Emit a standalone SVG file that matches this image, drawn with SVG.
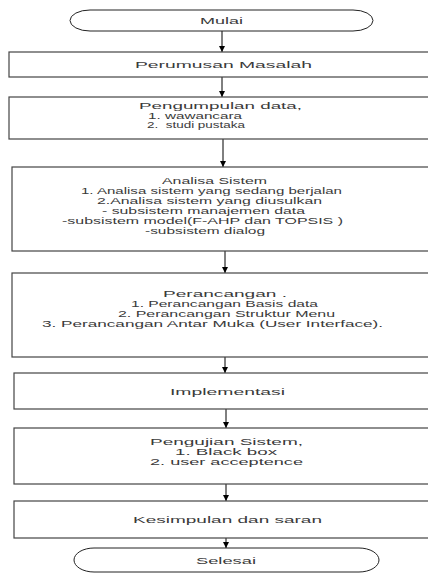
<svg xmlns="http://www.w3.org/2000/svg" width="428" height="573" viewBox="0 0 428 573">
  <defs>
    <marker id="arrow" viewBox="0 0 10 10" refX="10" refY="5" markerWidth="6" markerHeight="6" markerUnits="userSpaceOnUse" orient="auto">
      <path d="M0,0 L10,5 L0,10 Z" fill="#000"/>
    </marker>
    <style>
      .box { fill: #fff; stroke: #444; stroke-width: 1.2; }
      .term { fill: #fff; stroke: #222; stroke-width: 1; }
      .lbl { font-family: "Liberation Sans", Arial, sans-serif; font-size: 9px; fill: #3a3a3a; }
      .conn { stroke: #000; stroke-width: 1; fill: none; marker-end: url(#arrow); }
    </style>
  </defs>
  <rect width="428" height="573" fill="#fff"/>

  <!-- connectors -->
  <g id="connectors">
    <line class="conn" x1="222" y1="31" x2="222" y2="52"/>
    <line class="conn" x1="222" y1="77" x2="222" y2="97"/>
    <line class="conn" x1="223" y1="139" x2="223" y2="167"/>
    <line class="conn" x1="225" y1="251" x2="225" y2="273"/>
    <line class="conn" x1="225" y1="357" x2="225" y2="373"/>
    <line class="conn" x1="226" y1="409" x2="226" y2="428"/>
    <line class="conn" x1="226" y1="484" x2="226" y2="501"/>
    <line class="conn" x1="226" y1="538" x2="226" y2="548"/>
  </g>

  <g id="mulai">
    <path class="term" d="M90,10 H353 A20,10.5 0 0 1 353,31 H90 A20,10.5 0 0 1 90,10 Z"/>
    <text class="lbl" x="200" y="23.5" textLength="43" lengthAdjust="spacingAndGlyphs">Mulai</text>
  </g>

  <g id="perumusan">
    <rect class="box" x="9" y="52" width="425" height="25"/>
    <text class="lbl" x="135" y="67.5" textLength="177" lengthAdjust="spacingAndGlyphs">Perumusan Masalah</text>
  </g>

  <g id="pengumpulan">
    <rect class="box" x="9" y="97" width="425" height="42"/>
    <text class="lbl" x="139" y="109" textLength="163" lengthAdjust="spacingAndGlyphs">Pengumpulan data,</text>
    <text class="lbl" x="148" y="118.5" textLength="94" lengthAdjust="spacingAndGlyphs">1. wawancara</text>
    <text class="lbl" x="147" y="128" textLength="98" lengthAdjust="spacingAndGlyphs" xml:space="preserve">2.  studi pustaka</text>
  </g>

  <g id="analisa">
    <rect class="box" x="12" y="167" width="422" height="84"/>
    <text class="lbl" x="162" y="184" textLength="105" lengthAdjust="spacingAndGlyphs">Analisa Sistem</text>
    <text class="lbl" x="81" y="194" textLength="261" lengthAdjust="spacingAndGlyphs">1. Analisa sistem yang sedang berjalan</text>
    <text class="lbl" x="97" y="204" textLength="225" lengthAdjust="spacingAndGlyphs">2.Analisa sistem yang diusulkan</text>
    <text class="lbl" x="102" y="214" textLength="203" lengthAdjust="spacingAndGlyphs">- subsistem manajemen data</text>
    <text class="lbl" x="62" y="224" textLength="281" lengthAdjust="spacingAndGlyphs">-subsistem model(F-AHP dan TOPSIS )</text>
    <text class="lbl" x="145" y="233.5" textLength="120" lengthAdjust="spacingAndGlyphs">-subsistem dialog</text>
  </g>

  <g id="perancangan">
    <rect class="box" x="12" y="273" width="422" height="84"/>
    <text class="lbl" x="163" y="297" textLength="124" lengthAdjust="spacingAndGlyphs">Perancangan .</text>
    <text class="lbl" x="131" y="307" textLength="187" lengthAdjust="spacingAndGlyphs">1. Perancangan Basis data</text>
    <text class="lbl" x="118" y="317" textLength="217" lengthAdjust="spacingAndGlyphs">2. Perancangan Struktur Menu</text>
    <text class="lbl" x="42" y="326.5" textLength="341" lengthAdjust="spacingAndGlyphs">3. Perancangan Antar Muka (User Interface).</text>
  </g>

  <g id="implementasi">
    <rect class="box" x="14" y="373" width="420" height="36"/>
    <text class="lbl" x="170" y="394.5" textLength="115" lengthAdjust="spacingAndGlyphs">Implementasi</text>
  </g>

  <g id="pengujian">
    <rect class="box" x="14" y="428" width="420" height="56"/>
    <text class="lbl" x="150" y="445" textLength="153" lengthAdjust="spacingAndGlyphs">Pengujian Sistem,</text>
    <text class="lbl" x="175" y="455" textLength="102" lengthAdjust="spacingAndGlyphs">1. Black box</text>
    <text class="lbl" x="150" y="464.5" textLength="153" lengthAdjust="spacingAndGlyphs">2. user acceptence</text>
  </g>

  <g id="kesimpulan">
    <rect class="box" x="14" y="501" width="420" height="37"/>
    <text class="lbl" x="133" y="523" textLength="189" lengthAdjust="spacingAndGlyphs">Kesimpulan dan saran</text>
  </g>

  <g id="selesai">
    <path class="term" d="M94,548 H359 A20,12 0 0 1 359,572 H94 A20,12 0 0 1 94,548 Z"/>
    <text class="lbl" x="196" y="564" textLength="60" lengthAdjust="spacingAndGlyphs">Selesai</text>
  </g>
</svg>
